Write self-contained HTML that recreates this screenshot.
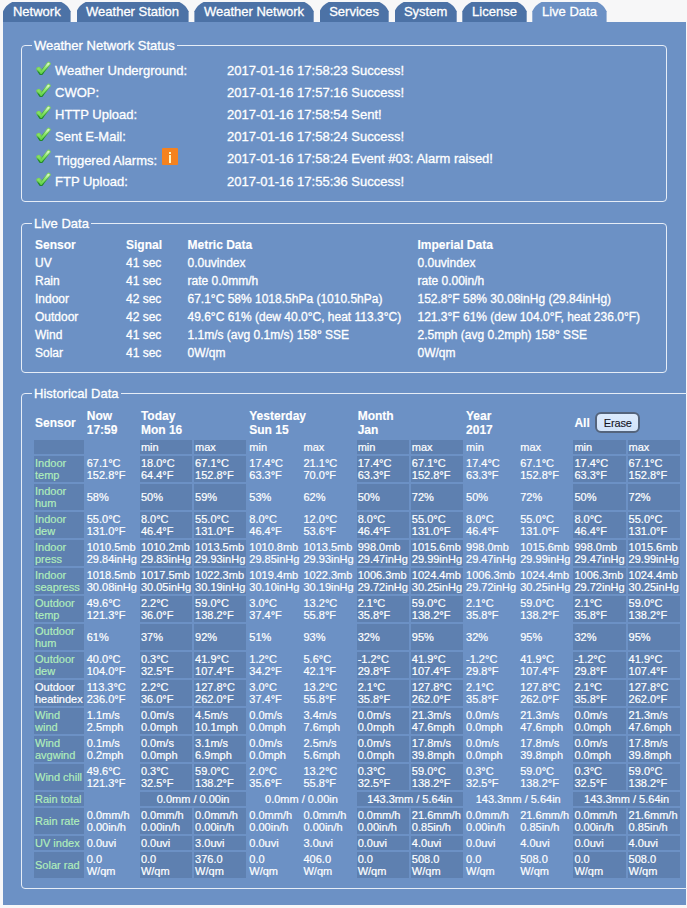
<!DOCTYPE html>
<html><head><meta charset="utf-8"><title>Live Data</title>
<style>
html,body{margin:0;padding:0}
body{width:687px;height:908px;overflow:hidden;background:#f7f7f8;font-family:"Liberation Sans",sans-serif;color:#fff;position:relative;font-size:13px;-webkit-text-stroke:0.3px currentColor}
.tab{position:absolute;top:2px;height:20px;background:#4c72a6;font-size:13px;line-height:20px;text-align:center;color:#fff;white-space:nowrap}
.tab.act{background:#6c91c5}
#panel{position:absolute;left:3px;top:22px;width:683px;height:882.5px;background:#6c91c5}
.fs{position:absolute;border:1px solid #e6edf7;border-radius:4px;box-sizing:border-box}
.lg{position:absolute;background:#6c91c5;font-size:13px;line-height:16px;padding:0 2px;white-space:nowrap}
.t{position:absolute;white-space:nowrap;font-size:13px;line-height:16px}
.l{position:absolute;white-space:nowrap;font-size:12px;line-height:14px}
.l b{font-weight:bold;-webkit-text-stroke:0.12px #fff}
.ck{position:absolute;display:block;filter:blur(0.3px)}
#info{position:absolute;left:161.9px;top:148.4px;width:16.1px;height:16.8px;background:#f5821f;border-radius:1px}
#info i{position:absolute;left:6.7px;width:2.6px;background:#fff6c4;display:block}
#hist{position:absolute;left:32px;top:406px;border-collapse:separate;border-spacing:2px;font-size:11px;line-height:12px;color:#fff;-webkit-text-stroke:0.2px #fff}
#hist td,#hist th{padding:1px;white-space:nowrap;text-align:left;vertical-align:middle;font-weight:normal}
#hist th{font-size:12px;line-height:14px;font-weight:bold;vertical-align:middle;-webkit-text-stroke:0.12px #fff}
#hist .d{background:#5e80b0}
#hist .g{color:#b2efbb;-webkit-text-stroke:0.15px #b2efbb}
#hist .c{text-align:center}
#erase{display:inline-block;vertical-align:middle;position:relative;top:-0.4px;margin-left:5.6px;width:40.8px;height:17px;border:2px solid #54647c;border-radius:6px;background:linear-gradient(#dcebfd,#d2e3f9);color:#15151f;font-size:11px;line-height:18.8px;letter-spacing:-0.15px;font-weight:normal;text-align:center;-webkit-text-stroke:0.12px #15151f}
</style></head><body>

<div class="tab" style="left:3.0px;width:67.6px;clip-path:path('M0 20V9.3Q2.9 2.9 9.2 0H58.4Q64.7 2.9 67.6 9.3V20Z')">Network</div>
<div class="tab" style="left:76.5px;width:112.1px;clip-path:path('M0 20V9.3Q2.9 2.9 9.2 0H102.9Q109.2 2.9 112.1 9.3V20Z')">Weather Station</div>
<div class="tab" style="left:194.4px;width:119.3px;clip-path:path('M0 20V9.3Q2.9 2.9 9.2 0H110.1Q116.4 2.9 119.3 9.3V20Z')">Weather Network</div>
<div class="tab" style="left:319.5px;width:69.2px;clip-path:path('M0 20V9.3Q2.9 2.9 9.2 0H60.0Q66.3 2.9 69.2 9.3V20Z')">Services</div>
<div class="tab" style="left:394.5px;width:62.2px;clip-path:path('M0 20V9.3Q2.9 2.9 9.2 0H53.0Q59.3 2.9 62.2 9.3V20Z')">System</div>
<div class="tab" style="left:462.3px;width:64.4px;clip-path:path('M0 20V9.3Q2.9 2.9 9.2 0H55.2Q61.5 2.9 64.4 9.3V20Z')">License</div>
<div class="tab act" style="left:532.3px;width:74.3px;clip-path:path('M0 20V9.3Q2.9 2.9 9.2 0H65.1Q71.4 2.9 74.3 9.3V20Z')">Live Data</div>
<div id="panel"></div>
<div class="fs" style="left:21px;top:45px;width:646px;height:157px"></div>
<div class="lg" style="left:32px;top:38px">Weather Network Status</div>
<svg class="ck" style="left:35.5px;top:61px" width="16" height="16" viewBox="0 0 16 16"><defs><linearGradient id="g" x1="0" y1="0" x2="0" y2="1"><stop offset="0" stop-color="#7fd45f"/><stop offset="1" stop-color="#1f8a28"/></linearGradient><linearGradient id="h" x1="0" y1="0" x2="0" y2="1"><stop offset="0" stop-color="#d9f7c6"/><stop offset="0.45" stop-color="#8ee86c"/><stop offset="1" stop-color="#66d44c"/></linearGradient></defs><path d="M2.5 8.1 L5.2 12.0 L12.7 2.7" fill="none" stroke="url(#g)" stroke-width="4" stroke-linecap="round" stroke-linejoin="round"/><path d="M2.7 8.2 L5.0 11.6" fill="none" stroke="url(#g)" stroke-width="4.7" stroke-linecap="round"/><path d="M2.6 8.2 L5.2 11.8 L12.6 2.8" fill="none" stroke="url(#h)" stroke-width="2.2" stroke-linecap="round" stroke-linejoin="round"/></svg>
<div class="t" style="left:55px;top:63px">Weather Underground:</div>
<div class="t" style="left:227px;top:63px">2017-01-16 17:58:23 Success!</div>
<svg class="ck" style="left:35.5px;top:83px" width="16" height="16" viewBox="0 0 16 16"><path d="M2.5 8.1 L5.2 12.0 L12.7 2.7" fill="none" stroke="url(#g)" stroke-width="4" stroke-linecap="round" stroke-linejoin="round"/><path d="M2.7 8.2 L5.0 11.6" fill="none" stroke="url(#g)" stroke-width="4.7" stroke-linecap="round"/><path d="M2.6 8.2 L5.2 11.8 L12.6 2.8" fill="none" stroke="url(#h)" stroke-width="2.2" stroke-linecap="round" stroke-linejoin="round"/></svg>
<div class="t" style="left:55px;top:85px">CWOP:</div>
<div class="t" style="left:227px;top:85px">2017-01-16 17:57:16 Success!</div>
<svg class="ck" style="left:35.5px;top:105px" width="16" height="16" viewBox="0 0 16 16"><path d="M2.5 8.1 L5.2 12.0 L12.7 2.7" fill="none" stroke="url(#g)" stroke-width="4" stroke-linecap="round" stroke-linejoin="round"/><path d="M2.7 8.2 L5.0 11.6" fill="none" stroke="url(#g)" stroke-width="4.7" stroke-linecap="round"/><path d="M2.6 8.2 L5.2 11.8 L12.6 2.8" fill="none" stroke="url(#h)" stroke-width="2.2" stroke-linecap="round" stroke-linejoin="round"/></svg>
<div class="t" style="left:55px;top:107px">HTTP Upload:</div>
<div class="t" style="left:227px;top:107px">2017-01-16 17:58:54 Sent!</div>
<svg class="ck" style="left:35.5px;top:127px" width="16" height="16" viewBox="0 0 16 16"><path d="M2.5 8.1 L5.2 12.0 L12.7 2.7" fill="none" stroke="url(#g)" stroke-width="4" stroke-linecap="round" stroke-linejoin="round"/><path d="M2.7 8.2 L5.0 11.6" fill="none" stroke="url(#g)" stroke-width="4.7" stroke-linecap="round"/><path d="M2.6 8.2 L5.2 11.8 L12.6 2.8" fill="none" stroke="url(#h)" stroke-width="2.2" stroke-linecap="round" stroke-linejoin="round"/></svg>
<div class="t" style="left:55px;top:129px">Sent E-Mail:</div>
<div class="t" style="left:227px;top:129px">2017-01-16 17:58:24 Success!</div>
<svg class="ck" style="left:35.5px;top:149px" width="16" height="16" viewBox="0 0 16 16"><path d="M2.5 8.1 L5.2 12.0 L12.7 2.7" fill="none" stroke="url(#g)" stroke-width="4" stroke-linecap="round" stroke-linejoin="round"/><path d="M2.7 8.2 L5.0 11.6" fill="none" stroke="url(#g)" stroke-width="4.7" stroke-linecap="round"/><path d="M2.6 8.2 L5.2 11.8 L12.6 2.8" fill="none" stroke="url(#h)" stroke-width="2.2" stroke-linecap="round" stroke-linejoin="round"/></svg>
<div class="t" style="left:55px;top:153px">Triggered Alarms:</div>
<div class="t" style="left:227px;top:151px">2017-01-16 17:58:24 Event #03: Alarm raised!</div>
<svg class="ck" style="left:35.5px;top:172px" width="16" height="16" viewBox="0 0 16 16"><path d="M2.5 8.1 L5.2 12.0 L12.7 2.7" fill="none" stroke="url(#g)" stroke-width="4" stroke-linecap="round" stroke-linejoin="round"/><path d="M2.7 8.2 L5.0 11.6" fill="none" stroke="url(#g)" stroke-width="4.7" stroke-linecap="round"/><path d="M2.6 8.2 L5.2 11.8 L12.6 2.8" fill="none" stroke="url(#h)" stroke-width="2.2" stroke-linecap="round" stroke-linejoin="round"/></svg>
<div class="t" style="left:55px;top:174px">FTP Upload:</div>
<div class="t" style="left:227px;top:174px">2017-01-16 17:55:36 Success!</div>
<div id="info"><i style="top:3.7px;height:2.1px"></i><i style="top:6.5px;height:8px"></i></div>
<div class="fs" style="left:21px;top:223px;width:646px;height:150px"></div>
<div class="lg" style="left:32px;top:216px">Live Data</div>
<div class="l" style="left:35.0px;top:238px"><b>Sensor</b></div>
<div class="l" style="left:126.0px;top:238px"><b>Signal</b></div>
<div class="l" style="left:187.5px;top:238px"><b>Metric Data</b></div>
<div class="l" style="left:417.5px;top:238px"><b>Imperial Data</b></div>
<div class="l" style="left:35.0px;top:256px">UV</div>
<div class="l" style="left:126.0px;top:256px">41 sec</div>
<div class="l" style="left:187.5px;top:256px">0.0uvindex</div>
<div class="l" style="left:417.5px;top:256px">0.0uvindex</div>
<div class="l" style="left:35.0px;top:274px">Rain</div>
<div class="l" style="left:126.0px;top:274px">41 sec</div>
<div class="l" style="left:187.5px;top:274px">rate 0.0mm/h</div>
<div class="l" style="left:417.5px;top:274px">rate 0.00in/h</div>
<div class="l" style="left:35.0px;top:292px">Indoor</div>
<div class="l" style="left:126.0px;top:292px">42 sec</div>
<div class="l" style="left:187.5px;top:292px">67.1°C 58% 1018.5hPa (1010.5hPa)</div>
<div class="l" style="left:417.5px;top:292px">152.8°F 58% 30.08inHg (29.84inHg)</div>
<div class="l" style="left:35.0px;top:310px">Outdoor</div>
<div class="l" style="left:126.0px;top:310px">42 sec</div>
<div class="l" style="left:187.5px;top:310px">49.6°C 61% (dew 40.0°C, heat 113.3°C)</div>
<div class="l" style="left:417.5px;top:310px">121.3°F 61% (dew 104.0°F, heat 236.0°F)</div>
<div class="l" style="left:35.0px;top:328px">Wind</div>
<div class="l" style="left:126.0px;top:328px">41 sec</div>
<div class="l" style="left:187.5px;top:328px">1.1m/s (avg 0.1m/s) 158° SSE</div>
<div class="l" style="left:417.5px;top:328px">2.5mph (avg 0.2mph) 158° SSE</div>
<div class="l" style="left:35.0px;top:346px">Solar</div>
<div class="l" style="left:126.0px;top:346px">41 sec</div>
<div class="l" style="left:187.5px;top:346px">0W/qm</div>
<div class="l" style="left:417.5px;top:346px">0W/qm</div>
<div class="fs" style="left:21px;top:393px;width:680px;height:496px"></div>
<div class="lg" style="left:32px;top:386px">Historical Data</div>
<table id="hist">
<tr><th>Sensor</th><th>Now<br>17:59</th><th colspan="2">Today<br>Mon 16</th><th colspan="2">Yesterday<br>Sun 15</th><th colspan="2">Month<br>Jan</th><th colspan="2">Year<br>2017</th><th colspan="2">All<span id="erase">Erase</span></th></tr>
<tr><td class="d" style="height:12px"></td><td style="width:50.2px"></td><td class="d" style="width:50.19px">min</td><td class="d" style="width:50.19px">max</td><td style="width:50.19px">min</td><td style="width:50.19px">max</td><td class="d" style="width:50.19px">min</td><td class="d" style="width:50.19px">max</td><td style="width:50.19px">min</td><td style="width:50.19px">max</td><td class="d" style="width:50.19px">min</td><td class="d" style="width:50.19px">max</td></tr>
<tr><td class="d g">Indoor<br>temp</td><td>67.1°C<br>152.8°F</td><td class="d">18.0°C<br>64.4°F</td><td class="d">67.1°C<br>152.8°F</td><td>17.4°C<br>63.3°F</td><td>21.1°C<br>70.0°F</td><td class="d">17.4°C<br>63.3°F</td><td class="d">67.1°C<br>152.8°F</td><td>17.4°C<br>63.3°F</td><td>67.1°C<br>152.8°F</td><td class="d">17.4°C<br>63.3°F</td><td class="d">67.1°C<br>152.8°F</td></tr>
<tr><td class="d g">Indoor<br>hum</td><td>58%</td><td class="d">50%</td><td class="d">59%</td><td>53%</td><td>62%</td><td class="d">50%</td><td class="d">72%</td><td>50%</td><td>72%</td><td class="d">50%</td><td class="d">72%</td></tr>
<tr><td class="d g">Indoor<br>dew</td><td>55.0°C<br>131.0°F</td><td class="d">8.0°C<br>46.4°F</td><td class="d">55.0°C<br>131.0°F</td><td>8.0°C<br>46.4°F</td><td>12.0°C<br>53.6°F</td><td class="d">8.0°C<br>46.4°F</td><td class="d">55.0°C<br>131.0°F</td><td>8.0°C<br>46.4°F</td><td>55.0°C<br>131.0°F</td><td class="d">8.0°C<br>46.4°F</td><td class="d">55.0°C<br>131.0°F</td></tr>
<tr><td class="d g">Indoor<br>press</td><td>1010.5mb<br>29.84inHg</td><td class="d">1010.2mb<br>29.83inHg</td><td class="d">1013.5mb<br>29.93inHg</td><td>1010.8mb<br>29.85inHg</td><td>1013.5mb<br>29.93inHg</td><td class="d">998.0mb<br>29.47inHg</td><td class="d">1015.6mb<br>29.99inHg</td><td>998.0mb<br>29.47inHg</td><td>1015.6mb<br>29.99inHg</td><td class="d">998.0mb<br>29.47inHg</td><td class="d">1015.6mb<br>29.99inHg</td></tr>
<tr><td class="d g">Indoor<br>seapress</td><td>1018.5mb<br>30.08inHg</td><td class="d">1017.5mb<br>30.05inHg</td><td class="d">1022.3mb<br>30.19inHg</td><td>1019.4mb<br>30.10inHg</td><td>1022.3mb<br>30.19inHg</td><td class="d">1006.3mb<br>29.72inHg</td><td class="d">1024.4mb<br>30.25inHg</td><td>1006.3mb<br>29.72inHg</td><td>1024.4mb<br>30.25inHg</td><td class="d">1006.3mb<br>29.72inHg</td><td class="d">1024.4mb<br>30.25inHg</td></tr>
<tr><td class="d g">Outdoor<br>temp</td><td>49.6°C<br>121.3°F</td><td class="d">2.2°C<br>36.0°F</td><td class="d">59.0°C<br>138.2°F</td><td>3.0°C<br>37.4°F</td><td>13.2°C<br>55.8°F</td><td class="d">2.1°C<br>35.8°F</td><td class="d">59.0°C<br>138.2°F</td><td>2.1°C<br>35.8°F</td><td>59.0°C<br>138.2°F</td><td class="d">2.1°C<br>35.8°F</td><td class="d">59.0°C<br>138.2°F</td></tr>
<tr><td class="d g">Outdoor<br>hum</td><td>61%</td><td class="d">37%</td><td class="d">92%</td><td>51%</td><td>93%</td><td class="d">32%</td><td class="d">95%</td><td>32%</td><td>95%</td><td class="d">32%</td><td class="d">95%</td></tr>
<tr><td class="d g">Outdoor<br>dew</td><td>40.0°C<br>104.0°F</td><td class="d">0.3°C<br>32.5°F</td><td class="d">41.9°C<br>107.4°F</td><td>1.2°C<br>34.2°F</td><td>5.6°C<br>42.1°F</td><td class="d">-1.2°C<br>29.8°F</td><td class="d">41.9°C<br>107.4°F</td><td>-1.2°C<br>29.8°F</td><td>41.9°C<br>107.4°F</td><td class="d">-1.2°C<br>29.8°F</td><td class="d">41.9°C<br>107.4°F</td></tr>
<tr><td class="d">Outdoor<br>heatindex</td><td>113.3°C<br>236.0°F</td><td class="d">2.2°C<br>36.0°F</td><td class="d">127.8°C<br>262.0°F</td><td>3.0°C<br>37.4°F</td><td>13.2°C<br>55.8°F</td><td class="d">2.1°C<br>35.8°F</td><td class="d">127.8°C<br>262.0°F</td><td>2.1°C<br>35.8°F</td><td>127.8°C<br>262.0°F</td><td class="d">2.1°C<br>35.8°F</td><td class="d">127.8°C<br>262.0°F</td></tr>
<tr><td class="d g">Wind<br>wind</td><td>1.1m/s<br>2.5mph</td><td class="d">0.0m/s<br>0.0mph</td><td class="d">4.5m/s<br>10.1mph</td><td>0.0m/s<br>0.0mph</td><td>3.4m/s<br>7.6mph</td><td class="d">0.0m/s<br>0.0mph</td><td class="d">21.3m/s<br>47.6mph</td><td>0.0m/s<br>0.0mph</td><td>21.3m/s<br>47.6mph</td><td class="d">0.0m/s<br>0.0mph</td><td class="d">21.3m/s<br>47.6mph</td></tr>
<tr><td class="d g">Wind<br>avgwind</td><td>0.1m/s<br>0.2mph</td><td class="d">0.0m/s<br>0.0mph</td><td class="d">3.1m/s<br>6.9mph</td><td>0.0m/s<br>0.0mph</td><td>2.5m/s<br>5.6mph</td><td class="d">0.0m/s<br>0.0mph</td><td class="d">17.8m/s<br>39.8mph</td><td>0.0m/s<br>0.0mph</td><td>17.8m/s<br>39.8mph</td><td class="d">0.0m/s<br>0.0mph</td><td class="d">17.8m/s<br>39.8mph</td></tr>
<tr><td class="d g">Wind chill</td><td>49.6°C<br>121.3°F</td><td class="d">0.3°C<br>32.5°F</td><td class="d">59.0°C<br>138.2°F</td><td>2.0°C<br>35.6°F</td><td>13.2°C<br>55.8°F</td><td class="d">0.3°C<br>32.5°F</td><td class="d">59.0°C<br>138.2°F</td><td>0.3°C<br>32.5°F</td><td>59.0°C<br>138.2°F</td><td class="d">0.3°C<br>32.5°F</td><td class="d">59.0°C<br>138.2°F</td></tr>
<tr><td class="d g">Rain total</td><td></td><td colspan="2" class="c d">0.0mm / 0.00in</td><td colspan="2" class="c">0.0mm / 0.00in</td><td colspan="2" class="c d">143.3mm / 5.64in</td><td colspan="2" class="c">143.3mm / 5.64in</td><td colspan="2" class="c d">143.3mm / 5.64in</td></tr>
<tr><td class="d g">Rain rate</td><td>0.0mm/h<br>0.00in/h</td><td class="d">0.0mm/h<br>0.00in/h</td><td class="d">0.0mm/h<br>0.00in/h</td><td>0.0mm/h<br>0.00in/h</td><td>0.0mm/h<br>0.00in/h</td><td class="d">0.0mm/h<br>0.00in/h</td><td class="d">21.6mm/h<br>0.85in/h</td><td>0.0mm/h<br>0.00in/h</td><td>21.6mm/h<br>0.85in/h</td><td class="d">0.0mm/h<br>0.00in/h</td><td class="d">21.6mm/h<br>0.85in/h</td></tr>
<tr><td class="d g">UV index</td><td>0.0uvi</td><td class="d">0.0uvi</td><td class="d">3.0uvi</td><td>0.0uvi</td><td>3.0uvi</td><td class="d">0.0uvi</td><td class="d">4.0uvi</td><td>0.0uvi</td><td>4.0uvi</td><td class="d">0.0uvi</td><td class="d">4.0uvi</td></tr>
<tr><td class="d g">Solar rad</td><td>0.0<br>W/qm</td><td class="d">0.0<br>W/qm</td><td class="d">376.0<br>W/qm</td><td>0.0<br>W/qm</td><td>406.0<br>W/qm</td><td class="d">0.0<br>W/qm</td><td class="d">508.0<br>W/qm</td><td>0.0<br>W/qm</td><td>508.0<br>W/qm</td><td class="d">0.0<br>W/qm</td><td class="d">508.0<br>W/qm</td></tr>
</table>
</body></html>
